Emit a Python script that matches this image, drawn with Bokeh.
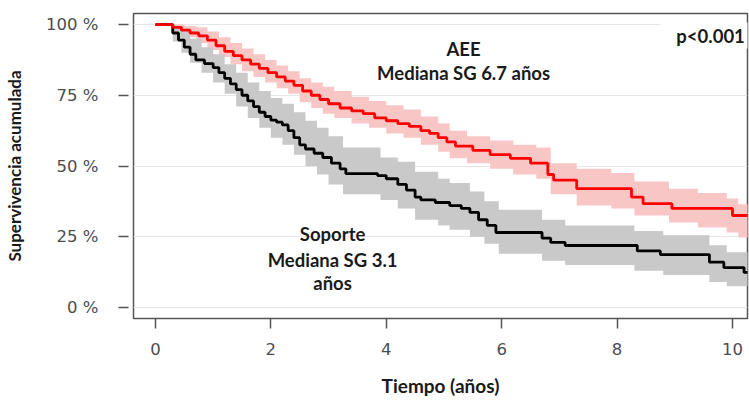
from bokeh.plotting import figure
from bokeh.models import Range1d, FixedTicker, Label
from bokeh.embed import file_html
from bokeh.resources import INLINE

# ---- data (Kaplan-Meier, years vs cumulative survival) ----
aee_t = [0, 0.3, 0.45, 0.6, 0.75, 0.9, 1.05, 1.2, 1.35, 1.5,
         1.65, 1.8, 1.95, 2.1, 2.25, 2.4, 2.55, 2.7, 2.85, 3.0,
         3.2, 3.4, 3.6, 3.8, 4.0, 4.2, 4.4, 4.6, 4.75, 4.9,
         5.05, 5.2, 5.5, 5.8, 6.15, 6.5, 6.8, 6.9, 7.3, 8.25,
         8.45, 8.95, 10.0, 10.4]
aee_s = [1.0, 0.99, 0.98, 0.97, 0.96, 0.945, 0.925, 0.905, 0.89, 0.875,
         0.86, 0.845, 0.83, 0.815, 0.80, 0.785, 0.765, 0.75, 0.735, 0.72,
         0.705, 0.695, 0.685, 0.67, 0.66, 0.65, 0.64, 0.625, 0.615, 0.60,
         0.585, 0.57, 0.555, 0.54, 0.527, 0.51, 0.47, 0.45, 0.42, 0.39,
         0.367, 0.35, 0.325, 0.325]
aee_ci_t = [0, 0.3, 0.5, 0.7, 0.9, 1.1, 1.3, 1.5, 1.7, 1.9,
            2.1, 2.3, 2.5, 2.7, 2.9, 3.1, 3.4, 3.7, 4.0, 4.3,
            4.6, 4.9, 5.1, 5.4, 5.8, 6.2, 6.6, 6.85, 7.3, 7.9,
            8.3, 8.9, 9.4, 9.9, 10.1, 10.4]
aee_ci_lo = [1.0, 0.975, 0.955, 0.935, 0.91, 0.885, 0.86, 0.835, 0.815, 0.795,
             0.775, 0.755, 0.725, 0.705, 0.685, 0.67, 0.65, 0.635, 0.615, 0.60,
             0.575, 0.55, 0.527, 0.51, 0.49, 0.47, 0.455, 0.40, 0.36, 0.35,
             0.325, 0.30, 0.283, 0.265, 0.247, 0.247]
aee_ci_hi = [1.0, 1.0, 0.995, 0.99, 0.975, 0.955, 0.935, 0.915, 0.895, 0.875,
             0.855, 0.835, 0.81, 0.795, 0.78, 0.765, 0.745, 0.73, 0.715, 0.70,
             0.675, 0.65, 0.625, 0.605, 0.59, 0.575, 0.565, 0.51, 0.49, 0.475,
             0.445, 0.42, 0.405, 0.385, 0.365, 0.365]

sop_t = [0, 0.3, 0.4, 0.5, 0.6, 0.7, 0.85, 1.0, 1.1, 1.2,
         1.3, 1.4, 1.5, 1.6, 1.7, 1.8, 1.9, 2.0, 2.1, 2.2,
         2.3, 2.4, 2.5, 2.6, 2.75, 2.9, 3.05, 3.2, 3.3, 3.85,
         4.0, 4.2, 4.35, 4.5, 4.6, 4.85, 5.1, 5.3, 5.45, 5.6,
         5.75, 5.9, 6.7, 6.85, 7.1, 8.35, 8.75, 9.6, 9.85, 10.2,
         10.4]
sop_s = [1.0, 0.97, 0.945, 0.92, 0.895, 0.875, 0.862, 0.848, 0.83, 0.81,
         0.79, 0.77, 0.75, 0.73, 0.71, 0.69, 0.675, 0.662, 0.655, 0.645,
         0.625, 0.60, 0.575, 0.56, 0.545, 0.53, 0.51, 0.49, 0.473, 0.466,
         0.455, 0.435, 0.415, 0.39, 0.38, 0.371, 0.36, 0.35, 0.336, 0.31,
         0.29, 0.265, 0.245, 0.23, 0.219, 0.20, 0.187, 0.16, 0.141, 0.124,
         0.124]
sop_ci_t = [0, 0.3, 0.45, 0.6, 0.8, 1.0, 1.2, 1.4, 1.6, 1.8,
            2.0, 2.2, 2.4, 2.6, 2.8, 3.0, 3.25, 3.9, 4.2, 4.5,
            4.9, 5.1, 5.45, 5.7, 5.95, 6.7, 7.1, 8.3, 8.8, 9.6,
            9.9, 10.4]
sop_ci_lo = [1.0, 0.94, 0.90, 0.865, 0.83, 0.795, 0.755, 0.71, 0.67, 0.635,
             0.60, 0.575, 0.54, 0.50, 0.47, 0.435, 0.40, 0.38, 0.35, 0.31,
             0.29, 0.275, 0.25, 0.225, 0.19, 0.165, 0.15, 0.13, 0.115, 0.09,
             0.075, 0.075]
sop_ci_hi = [1.0, 0.995, 0.975, 0.95, 0.92, 0.895, 0.86, 0.83, 0.795, 0.765,
             0.74, 0.72, 0.69, 0.66, 0.635, 0.605, 0.565, 0.53, 0.515, 0.48,
             0.455, 0.44, 0.41, 0.375, 0.345, 0.31, 0.29, 0.27, 0.255, 0.22,
             0.195, 0.195]

x_ticks = [0, 2, 4, 6, 8, 10]
y_ticks = [0, 0.25, 0.5, 0.75, 1.0]
y_tick_labels = ["0 %", "25 %", "50 %", "75 %", "100 %"]

x_title = "Tiempo (años)"
y_title = "Supervivencia acumulada"

# ---- figure ----
p = figure(width=749, height=401, output_backend="svg", toolbar_location=None,
           x_range=Range1d(-0.38, 10.26), y_range=Range1d(-0.039, 1.039),
           min_border_left=133, min_border_right=2, min_border_top=13,
           min_border_bottom=83)
p.background_fill_color = "white"
p.border_fill_color = "white"
p.outline_line_color = "#555555"
p.outline_line_width = 1.5

p.xgrid.visible = False
p.ygrid.ticker = FixedTicker(ticks=y_ticks)
p.ygrid.grid_line_color = "#e6e6e6"
p.ygrid.grid_line_width = 1

# confidence bands
p.varea_step(x=aee_ci_t, y1=aee_ci_lo, y2=aee_ci_hi, step_mode="after",
             fill_color="#f9c6c6")
p.varea_step(x=sop_ci_t, y1=sop_ci_lo, y2=sop_ci_hi, step_mode="after",
             fill_color="#c9c9c9")
# survival curves
p.step(sop_t, sop_s, mode="after", line_color="black", line_width=2.8)
p.step(aee_t, aee_s, mode="after", line_color="#ff0000", line_width=2.8)

# axes
p.xaxis.ticker = FixedTicker(ticks=x_ticks)
p.yaxis.ticker = FixedTicker(ticks=y_ticks)
p.yaxis.major_label_overrides = {t: l for t, l in zip(y_ticks, y_tick_labels)}
for ax in (p.xaxis[0], p.yaxis[0]):
    ax.axis_line_color = None
    ax.minor_tick_line_color = None
    ax.major_tick_line_color = "#555555"
    ax.major_tick_line_width = 1.5
    ax.major_label_text_font = "DejaVu Sans"
    ax.major_label_text_font_size = "16.5px"
    ax.major_label_text_color = "#4d4d4d"
    ax.axis_label_text_font = "Lato"
    ax.axis_label_text_font_style = "bold"
    ax.axis_label_text_color = "#1a1a1a"

p.yaxis.major_tick_out = 15
p.yaxis.major_tick_in = -5
p.yaxis.major_label_standoff = 20
p.yaxis.axis_label = y_title
p.yaxis.axis_label_text_font_size = "17px"
p.yaxis.axis_label_standoff = 18

p.xaxis.major_tick_out = 10
p.xaxis.major_tick_in = 0
p.xaxis.major_label_standoff = 14
p.xaxis.axis_label = x_title
p.xaxis.axis_label_text_font_size = "19px"
p.xaxis.axis_label_standoff = 16

# annotations
def note(x, y, text, **kw):
    lab = Label(x=x, y=y, text=text, text_align="center", text_baseline="middle",
                text_font="Lato", text_font_style="bold", text_font_size="18.5px",
                text_color="#1a1a1a", **kw)
    p.add_layout(lab)

note(5.34, 0.912, "AEE")
note(5.34, 0.827, "Mediana SG 6.7 años")
note(3.07, 0.261, "Soporte")
note(3.07, 0.166, "Mediana SG 3.1")
note(3.07, 0.088, "años")
note(9.62, 0.961, "p<0.001", background_fill_color="white",
     padding=dict(left=16, right=16, top=2, bottom=2))

open("out.html", "w").write(file_html(p, INLINE))
